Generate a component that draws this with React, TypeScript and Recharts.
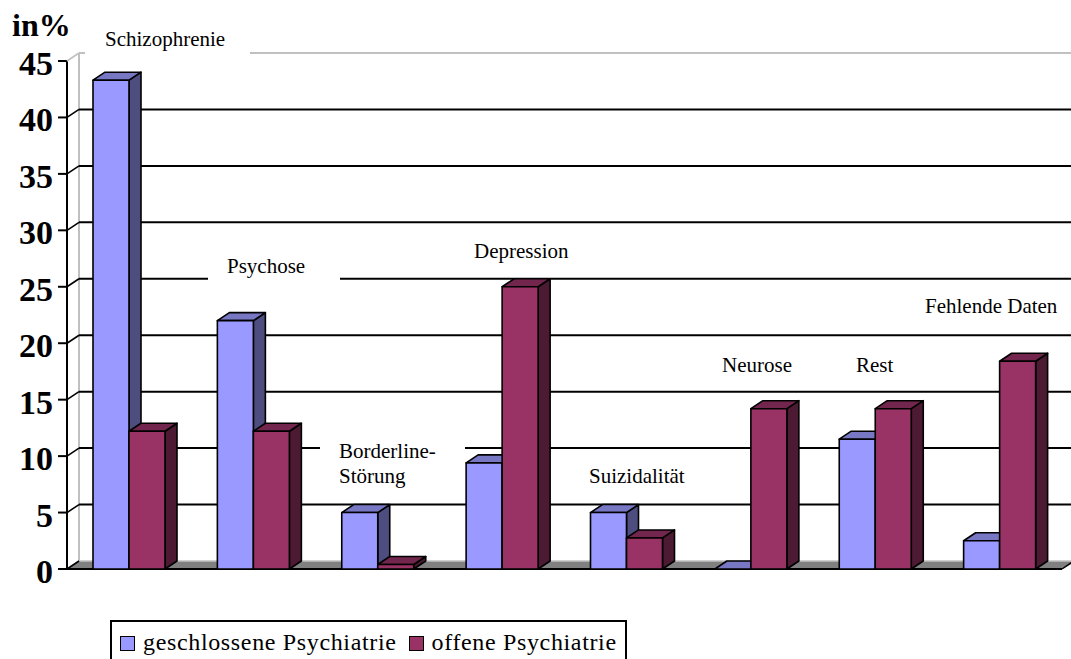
import React from "react";
import { BarChart, Bar, XAxis, YAxis, CartesianGrid, Legend, LabelList } from "recharts";

const categories = ["Schizophrenie", "Psychose", "Borderline-Störung", "Depression", "Suizidalität", "Neurose", "Rest", "Fehlende Daten"];
const geschlossen = [43.3, 22, 5, 9.4, 5, 0, 11.5, 2.5];
const offen = [12.2, 12.2, 0.4, 25, 2.75, 14.2, 14.2, 18.4];
const yTicks = [0, 5, 10, 15, 20, 25, 30, 35, 40, 45];
const seriesNames = ["geschlossene Psychiatrie", "offene Psychiatrie"];
const yTitle = "in%";

const data = categories.map((name, i) => ({ name, geschlossen: geschlossen[i], offen: offen[i] }));

const DX = 12, DY = 8;
const W = 1071, H = 659;
const LEFT = 67, TOP = 61, BOTTOM = 569, PLOT_RIGHT = 1062;
const SERIF = "'Liberation Serif', serif";

const blue = { front: "#9999FF", top: "#7777C4", side: "#4D4D80" };
const red = { front: "#993366", top: "#73264D", side: "#4D1A33" };

// label placement: text start, baseline(s), and a white mask over the gridline behind it
const labelLayout: Record<string, { x: number; lines: string[]; ys: number[]; mask?: number[] }> = {
  "Schizophrenie": { x: 105, lines: ["Schizophrenie"], ys: [46], mask: [85, 42, 165, 16] },
  "Psychose": { x: 227, lines: ["Psychose"], ys: [273], mask: [208, 270, 132, 16] },
  "Borderline-Störung": { x: 339, lines: ["Borderline-", "Störung"], ys: [458, 483], mask: [320, 440, 145, 14] },
  "Depression": { x: 474, lines: ["Depression"], ys: [258] },
  "Suizidalität": { x: 589, lines: ["Suizidalität"], ys: [483] },
  "Neurose": { x: 722, lines: ["Neurose"], ys: [372] },
  "Rest": { x: 856, lines: ["Rest"], ys: [372] },
  "Fehlende Daten": { x: 925, lines: ["Fehlende Daten"], ys: [313] },
};

function Bar3D(props: any) {
  const { x, y, width, height, colors } = props;
  const h = Math.max(height, 0);
  const common = { stroke: "#000", strokeWidth: 1.6, strokeLinejoin: "round" as const };
  return (
    <g>
      <polygon points={`${x + width},${y} ${x + width + DX},${y - DY} ${x + width + DX},${y + h - DY} ${x + width},${y + h}`} fill={colors.side} {...common} />
      <polygon points={`${x},${y} ${x + DX},${y - DY} ${x + width + DX},${y - DY} ${x + width},${y}`} fill={colors.top} {...common} />
      <rect x={x} y={y} width={width} height={h} fill={colors.front} {...common} />
    </g>
  );
}

function gridLine(props: any) {
  const { y1, x1, x2 } = props;
  const by = y1 - DY;
  if (Math.abs(y1 - BOTTOM) < 1) {
    return (
      <g key="floor">
        <line x1={x1 + DX} x2={x1 + DX} y1={TOP - DY} y2={by} stroke="#C0C0C0" strokeWidth={2} />
        <polygon points={`${x1},${y1} ${x1 + DX},${by} ${x2 + DX},${by} ${x2},${y1}`} fill="#808080" />
        <line x1={x1 + DX} x2={x2 + DX} y1={by} y2={by} stroke="#C0C0C0" strokeWidth={1.5} />
        <line x1={x1} x2={x2} y1={y1} y2={y1} stroke="#000" strokeWidth={2} />
        <line x1={x2} x2={x2 + DX} y1={y1} y2={by} stroke="#000" strokeWidth={1.5} />
      </g>
    );
  }
  const isTop = Math.abs(y1 - TOP) < 1;
  return <line key={y1} x1={x1 + DX} x2={x2 + DX} y1={by} y2={by} stroke={isTop ? "#C0C0C0" : "#000"} strokeWidth={2} />;
}

function YTick(props: any) {
  const { x, y, payload } = props;
  return (
    <g>
      <line x1={x - 9} x2={x} y1={y} y2={y} stroke="#000" strokeWidth={2} />
      <line x1={x} x2={x + DX} y1={y} y2={y - DY} stroke={payload.value === 45 ? "#C0C0C0" : "#000"} strokeWidth={1.6} />
      <text x={x - 14} y={y + 14} textAnchor="end" fontFamily={SERIF} fontWeight="bold" fontSize={34} fill="#000">
        {payload.value}
      </text>
    </g>
  );
}

function YTitle() {
  return <text x={12} y={36} fontFamily={SERIF} fontWeight="bold" fontSize={32} fill="#000">{yTitle}</text>;
}

function CatLabel(props: any) {
  const l = labelLayout[props.value];
  if (!l) return null;
  return (
    <g>
      {l.mask && <rect x={l.mask[0]} y={l.mask[1]} width={l.mask[2]} height={l.mask[3]} fill="#fff" />}
      {l.lines.map((t, i) => (
        <text key={t} x={l.x} y={l.ys[i]} fontFamily={SERIF} fontSize={21} fill="#000">{t}</text>
      ))}
    </g>
  );
}

function LegendBox() {
  const swatch = (c: string): React.CSSProperties => ({
    display: "inline-block", width: 13, height: 13, background: c, border: "1.5px solid #000", marginRight: 8, verticalAlign: "-1px",
  });
  return (
    <div style={{ position: "absolute", left: 110, top: 620, width: 517, height: 39, borderLeft: "2px solid #000", borderRight: "2px solid #000", borderTop: "2px solid #000", fontFamily: SERIF, fontSize: 24, letterSpacing: 0.65, lineHeight: "41px", whiteSpace: "nowrap", paddingLeft: 8, boxSizing: "border-box", color: "#000", overflow: "hidden" }}>
      <span style={swatch(blue.front)} />{seriesNames[0]}
      <span style={{ ...swatch(red.front), marginLeft: 12 }} />{seriesNames[1]}
    </div>
  );
}

export default function App() {
  return (
    <div style={{ position: "absolute", left: 0, top: 0, width: W, height: H, background: "#fff", overflow: "hidden" }}>
      <BarChart width={W} height={H} data={data} barGap={0} barSize={36} barCategoryGap={26} margin={{ left: 0, right: W - PLOT_RIGHT, top: TOP, bottom: 0 }}>
        <CartesianGrid horizontal={gridLine as any} vertical={false} stroke="#000" />
        <XAxis dataKey="name" axisLine={false} tick={false} tickLine={false} height={H - BOTTOM} />
        <YAxis domain={[0, 45]} ticks={yTicks} interval={0} width={LEFT} tick={<YTick />} tickLine={false} tickSize={0} tickMargin={0} axisLine={{ stroke: "#000", strokeWidth: 2 }} label={<YTitle />} />
        <Legend content={<LegendBox />} wrapperStyle={{ left: 0, top: 0, width: 0, height: 0 }} />
        <Bar dataKey="geschlossen" name={seriesNames[0]} isAnimationActive={false} shape={(p: any) => <Bar3D {...p} colors={blue} />}>
          <LabelList dataKey="name" content={<CatLabel />} />
        </Bar>
        <Bar dataKey="offen" name={seriesNames[1]} isAnimationActive={false} shape={(p: any) => <Bar3D {...p} colors={red} />} />
      </BarChart>
    </div>
  );
}
